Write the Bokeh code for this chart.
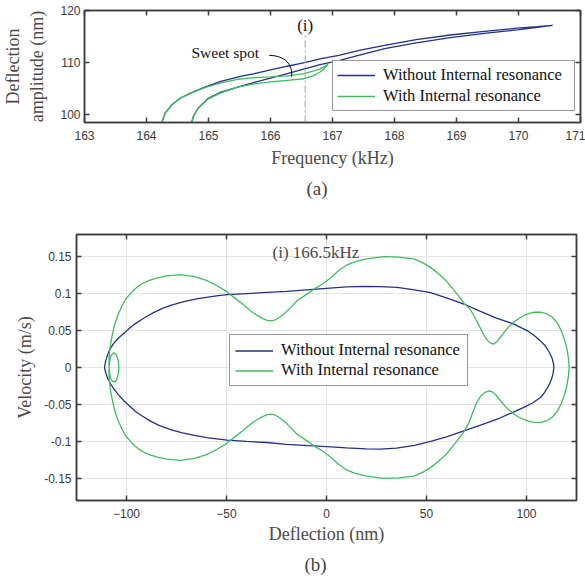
from bokeh.plotting import figure
from bokeh.layouts import column, row
from bokeh.models import (Legend, LegendItem, Label, LinearAxis, FixedTicker, Title,
                          CustomJSTickFormatter, CustomLabelingPolicy)
from bokeh.embed import file_html
from bokeh.resources import INLINE

# ---------------- data: panel (a) frequency response ----------------
freq_ticks = [163, 164, 165, 166, 167, 168, 169, 170, 171]
amp_ticks = [100, 110, 120]

# without internal resonance: upper and lower branches
f_no_up = [164.25, 164.30, 164.40, 164.55, 164.70, 164.94, 165.20, 165.50, 165.74, 166.00,
           166.27, 166.55, 166.80, 167.10, 167.45, 167.84, 168.35, 168.90, 169.45, 169.98,
           170.30, 170.55]
a_no_up = [98.6, 100.3, 101.8, 103.2, 104.1, 105.3, 106.4, 107.3, 107.9, 108.6,
           109.3, 110.0, 110.7, 111.4, 112.4, 113.3, 114.4, 115.3, 116.0, 116.6,
           116.9, 117.15]
f_no_lo = [164.73, 164.76, 164.83, 164.99, 165.20, 165.50, 165.74, 166.00, 166.27, 166.55,
           166.80, 167.10, 167.45, 167.84, 168.35, 168.90, 169.45, 169.98, 170.30, 170.55]
a_no_lo = [98.6, 99.8, 101.2, 103.1, 104.35, 105.4, 106.2, 107.0, 107.9, 108.8,
           109.6, 110.4, 111.5, 112.7, 113.8, 114.8, 115.6, 116.3, 116.75, 117.15]

# with internal resonance: upper and lower branches
f_ir_up = [164.25, 164.30, 164.40, 164.55, 164.70, 164.94, 165.20, 165.47, 165.74, 166.00,
           166.27, 166.54, 166.70, 166.80, 166.88, 166.93]
a_ir_up = [98.6, 100.3, 101.8, 103.2, 104.1, 105.2, 106.1, 106.8, 107.1, 107.25,
           107.45, 107.9, 108.4, 108.8, 109.3, 109.7]
f_ir_lo = [164.73, 164.76, 164.83, 164.99, 165.20, 165.47, 165.74, 166.00, 166.27, 166.54,
           166.70, 166.80, 166.88, 166.93]
a_ir_lo = [98.6, 99.8, 101.2, 103.0, 104.2, 105.3, 105.9, 106.3, 106.6, 106.9,
           107.5, 108.2, 109.0, 109.7]

marker_freq = 166.56          # frequency (i)
marker_amp = [98.5, 115.6]
sweet_label = (165.27, 111.9)
sweet_arrow = dict(x0=165.98, y0=111.4, cx0=166.24, cy0=111.3, cx1=166.36, cy1=109.6,
                   x1=166.34, y1=107.3)

# ---------------- data: panel (b) phase portrait ----------------
defl_ticks = [-100, -50, 0, 50, 100]
vel_ticks = [-0.15, -0.1, -0.05, 0, 0.05, 0.1, 0.15]

d_no_up = [-111, -110.6, -109.7, -108.3, -106.3, -104, -101, -98.5, -96.3, -93, -90, -86, -82,
           -78, -71.3, -65, -60, -55, -49.7, -40, -29.7, -20, -10, 0, 10, 18.7, 27, 35.3, 44,
           52, 60.3, 68.7, 77, 85.3, 93.7, 100.3, 104, 107, 109.5, 111.5, 112.8, 113.5, 113.7]
v_no_up = [0, 0.007, 0.015, 0.025, 0.033, 0.040, 0.047, 0.053, 0.058, 0.064, 0.069, 0.075,
           0.080, 0.084, 0.089, 0.093, 0.095, 0.097, 0.0985, 0.100, 0.1016, 0.103, 0.105,
           0.107, 0.109, 0.1098, 0.1095, 0.1084, 0.105, 0.1012, 0.094, 0.0859, 0.076, 0.0665,
           0.0588, 0.050, 0.043, 0.036, 0.029, 0.020, 0.0125, 0.005, 0]
d_no_lo = [113.7, 113.3, 112.5, 111, 109, 107, 103, 98.7, 92, 85.3, 77, 68.7, 60, 52, 44, 35,
           27, 20, 10, 0, -9, -20, -30, -40, -49.7, -60, -66, -72, -78, -84, -88, -92, -95.5,
           -98.5, -101.3, -104, -106.3, -108, -109.5, -110.5, -111]
v_no_lo = [0, -0.008, -0.016, -0.025, -0.034, -0.0406, -0.048, -0.054, -0.062, -0.070, -0.078,
           -0.0858, -0.094, -0.100, -0.1055, -0.109, -0.1105, -0.1100, -0.1088, -0.107, -0.1058,
           -0.104, -0.1015, -0.100, -0.0984, -0.095, -0.092, -0.0885, -0.084, -0.078, -0.0726,
           -0.066, -0.0595, -0.052, -0.045, -0.037, -0.029, -0.022, -0.014, -0.006, 0]

d_ir = [121.3, 121.0, 120.3, 119.2, 117.5, 115.5, 113, 110.3, 107, 104, 101, 98.5, 96, 93.7,
        91.5, 89.5, 87.5, 85.5, 83.7, 82, 80, 78.5, 77, 75.3, 73.5, 71.5, 68.7, 66, 63, 60,
        56, 52, 48, 43.7, 36, 28.7, 20, 14, 10.3, 6, 2, -2, -6.3, -10, -14.7, -18, -21, -24,
        -26, -28, -30, -32, -35, -38, -42, -46.3, -50, -54.7, -60, -66, -73, -80, -85, -89,
        -92.5, -95.5, -98, -100.5, -102.5, -104.3, -105.7, -106.8, -107.6, -108.2,
        -108.6, -108.8, -108.5, -107.6, -106.3, -105, -104.1, -103.8, -104.1, -105, -106.3,
        -107.6, -108.5, -108.8, -108.6,
        -108.2, -107.6, -106.8, -105.7, -104.3, -102.5, -100.5, -98, -95.5, -92.5, -89, -85,
        -80, -73, -66, -60, -54.7, -50, -46.3, -42, -38, -35, -32, -30, -28, -26, -24, -21,
        -18, -14.7, -10, -6.3, -2, 2, 6, 10.3, 14, 20, 28.7, 36, 43.7, 48, 52, 56, 60, 63,
        66, 68.7, 71, 73, 75, 77, 79, 81.2, 83, 85, 87, 89.5, 91.5, 93.7, 96, 98.5, 101,
        104, 107, 110.3, 113, 115.5, 117.5, 119.2, 120.3, 121.0, 121.3]
v_ir = [0, 0.012, 0.024, 0.036, 0.049, 0.060, 0.068, 0.0725, 0.0748, 0.0748, 0.073, 0.070,
        0.066, 0.0615, 0.056, 0.050, 0.043, 0.036, 0.0317, 0.033, 0.038, 0.045, 0.053, 0.062,
        0.071, 0.080, 0.087, 0.097, 0.107, 0.117, 0.127, 0.1355, 0.142, 0.1469, 0.1495, 0.150,
        0.147, 0.143, 0.139, 0.131, 0.121, 0.113, 0.106, 0.099, 0.0904, 0.081, 0.073, 0.067,
        0.064, 0.063, 0.064, 0.0665, 0.071, 0.0768, 0.086, 0.0949, 0.103, 0.1107, 0.118,
        0.123, 0.1256, 0.124, 0.121, 0.1175, 0.113, 0.107, 0.100, 0.092, 0.082, 0.071, 0.060,
        0.048, 0.037, 0.027,
        0.018, 0.005, -0.008, -0.017, -0.020, -0.017, -0.008, 0.0, 0.009, 0.017, 0.020,
        0.017, 0.008, -0.005, -0.018,
        -0.027, -0.037, -0.048, -0.060, -0.071, -0.082, -0.092, -0.100, -0.107, -0.113,
        -0.1175, -0.121, -0.124, -0.1256, -0.123, -0.118, -0.1107, -0.103, -0.0949, -0.086,
        -0.0768, -0.071, -0.0665, -0.064, -0.063, -0.064, -0.067, -0.073, -0.081, -0.0904,
        -0.099, -0.106, -0.113, -0.121, -0.131, -0.139, -0.143, -0.147, -0.150, -0.1495,
        -0.1469, -0.142, -0.1355, -0.127, -0.117, -0.107, -0.097, -0.087, -0.076, -0.062,
        -0.048, -0.039, -0.034, -0.0316, -0.033, -0.038, -0.045, -0.053, -0.058, -0.063,
        -0.067, -0.070, -0.0727, -0.0743, -0.0745, -0.072, -0.067, -0.059, -0.048, -0.035,
        -0.023, -0.011, 0]

case_label = (-27, 0.156)

# ---------------- styling ----------------
BLUE = "#22318a"
GREEN = "#42bb5f"
FRAME = "#3d3d3d"
SERIF = "Liberation Serif"
SANS = "Liberation Sans"

HIDE = CustomLabelingPolicy(code="""
const all = Array.from(indices);
for (const i of all) indices.unset(i);
return indices;
""")


def style_axis(ax, labels=True):
    ax.major_tick_in = 5
    ax.major_tick_out = 0
    ax.minor_tick_in = 0
    ax.minor_tick_out = 0
    ax.minor_tick_line_color = None
    ax.axis_line_color = FRAME
    ax.axis_line_width = 1.5
    ax.major_tick_line_color = FRAME
    ax.major_tick_line_width = 1.5
    ax.major_label_text_font = SANS
    ax.major_label_text_font_size = "12px"
    ax.major_label_text_color = "#3a3a3a"
    ax.axis_label_text_font = SERIF
    ax.axis_label_text_font_style = "normal"
    ax.axis_label_text_font_size = "18px"
    ax.axis_label_text_color = "#4a4a4a"
    if not labels:
        ax.major_label_text_font_size = "1px"
        ax.major_label_standoff = 0
        ax.major_label_policy = HIDE


def mirror(p, ticker, loc):
    ax = LinearAxis(ticker=ticker)
    style_axis(ax, labels=False)
    p.add_layout(ax, loc)


# ---------------- panel (a) ----------------
p1 = figure(width=585, height=218, x_range=(163, 171), y_range=(98.5, 120),
            output_backend="svg", toolbar_location=None,
            min_border_left=84, min_border_right=1, min_border_top=10, min_border_bottom=96)
p1.outline_line_color = FRAME
p1.outline_line_width = 1.5
p1.grid.visible = False
p1.xaxis.ticker = FixedTicker(ticks=freq_ticks)
p1.yaxis.ticker = FixedTicker(ticks=amp_ticks)
for ax in p1.axis:
    style_axis(ax)
p1.xaxis.axis_label = "Frequency (kHz)"
p1.yaxis.axis_label = "Deflection\namplitude (nm)"
p1.xaxis.major_label_standoff = 8
p1.xaxis.axis_label_standoff = 5
p1.yaxis.major_label_standoff = 4
p1.yaxis.axis_label_standoff = 10
mirror(p1, FixedTicker(ticks=freq_ticks), "above")
mirror(p1, FixedTicker(ticks=amp_ticks), "right")

r_no = p1.line(f_no_lo + f_no_up[::-1], a_no_lo + a_no_up[::-1], line_color=BLUE, line_width=1.3)
r_ir = p1.line(f_ir_lo + f_ir_up[::-1], a_ir_lo + a_ir_up[::-1], line_color=GREEN, line_width=1.3)
p1.line([marker_freq, marker_freq], marker_amp, line_color="#b4b4b4", line_width=1.3,
        line_dash="7 3 2 3")
p1.bezier(**sweet_arrow, line_color="black", line_width=1)
p1.add_layout(Label(x=sweet_label[0], y=sweet_label[1], text="Sweet spot", text_align="center",
                    text_baseline="middle", text_font=SERIF, text_font_size="15.5px",
                    text_color="#111111"))
p1.add_layout(Label(x=marker_freq, y=117.1, text="(i)", text_align="center",
                    text_baseline="middle", text_font=SERIF, text_font_size="17px",
                    text_color="#111111"))

leg1 = Legend(items=[LegendItem(label="Without Internal resonance", renderers=[r_no]),
                     LegendItem(label="With Internal resonance", renderers=[r_ir])],
              location=(248, 11), border_line_color="#333333", border_line_width=1,
              label_text_font=SERIF, label_text_font_size="16.5px", label_text_color="#111111",
              glyph_width=38, glyph_height=20, label_height=20, label_width=187,
              label_standoff=8, padding=4, spacing=1, margin=0, background_fill_alpha=1)
p1.add_layout(leg1)
p1.add_layout(Title(text="(a)", align="left", offset=222, text_font=SERIF,
                    text_font_size="19px", text_font_style="normal", text_color="#444444"),
              "below")

# ---------------- panel (b) ----------------
p2 = figure(width=585, height=363, x_range=(-125, 125), y_range=(-0.18, 0.18),
            output_backend="svg", toolbar_location=None,
            min_border_left=76, min_border_right=9, min_border_top=16, min_border_bottom=81)
p2.outline_line_color = FRAME
p2.outline_line_width = 1.5
p2.xaxis.ticker = FixedTicker(ticks=defl_ticks)
p2.yaxis.ticker = FixedTicker(ticks=vel_ticks)
p2.xgrid.ticker = FixedTicker(ticks=defl_ticks)
p2.ygrid.ticker = FixedTicker(ticks=vel_ticks)
p2.grid.grid_line_color = "#e4e4e4"
for ax in p2.axis:
    style_axis(ax)
p2.yaxis.formatter = CustomJSTickFormatter(code="return String(Math.round(tick*1000)/1000);")
p2.xaxis.axis_label = "Deflection (nm)"
p2.yaxis.axis_label = "Velocity (m/s)"
p2.xaxis.major_label_standoff = 8
p2.xaxis.axis_label_standoff = 3
p2.yaxis.major_label_standoff = 5
p2.yaxis.axis_label_standoff = 6
mirror(p2, FixedTicker(ticks=defl_ticks), "above")
mirror(p2, FixedTicker(ticks=vel_ticks), "right")

r2_no = p2.line(d_no_up + d_no_lo, v_no_up + v_no_lo, line_color=BLUE, line_width=1.3)
r2_ir = p2.line(d_ir, v_ir, line_color=GREEN, line_width=1.3)
p2.add_layout(Label(x=case_label[0], y=case_label[1], text="(i) 166.5kHz", text_align="left",
                    text_baseline="middle", text_font=SERIF, text_font_size="17px",
                    text_color="#4a4a4a"))
leg2 = Legend(items=[LegendItem(label="Without Internal resonance", renderers=[r2_no]),
                     LegendItem(label="With Internal resonance", renderers=[r2_ir])],
              location=(153, 114), border_line_color="#333333", border_line_width=1,
              label_text_font=SERIF, label_text_font_size="16.5px", label_text_color="#111111",
              glyph_width=38, glyph_height=19, label_height=19, label_width=181,
              label_standoff=8, padding=5, spacing=0, margin=0, background_fill_alpha=1)
p2.add_layout(leg2)
p2.add_layout(Title(text="(b)", align="left", offset=228, text_font=SERIF,
                    text_font_size="19px", text_font_style="normal", text_color="#444444"),
              "below")

layout = column(row(p1), row(p2), spacing=0)
open("out.html", "w").write(file_html(layout, INLINE))
